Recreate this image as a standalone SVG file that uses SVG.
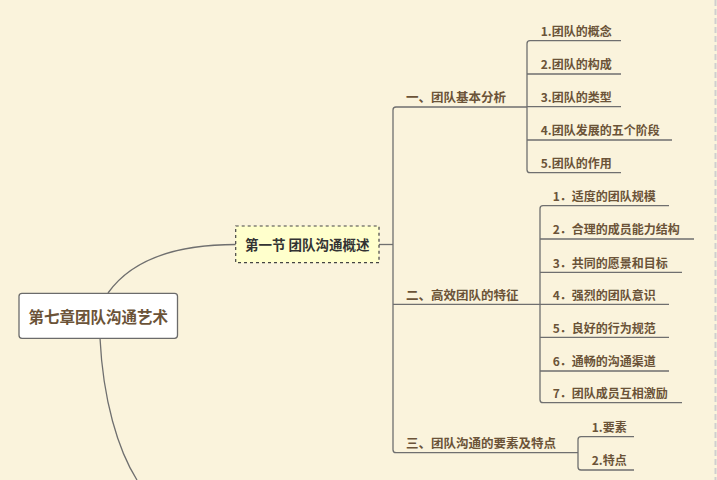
<svg xmlns="http://www.w3.org/2000/svg" width="717" height="480" viewBox="0 0 717 480">
<style>
.ln{fill:none;stroke:#6f6f6f;stroke-width:1.3}
.t{font-family:"Noto Sans CJK SC","Microsoft YaHei",sans-serif;font-weight:bold;font-size:12px;fill:#6b5338}
.t1{font-family:"Noto Sans CJK SC","Microsoft YaHei",sans-serif;font-weight:bold;font-size:12.5px;fill:#6b5338}
</style>
<rect width="717" height="480" fill="#faf3dc"/>
<line x1="715.5" y1="0" x2="715.5" y2="480" stroke="#cfcfcf" stroke-width="2" stroke-dasharray="6 3"/>
<g id="connectors">
<path class="ln" d="M108,293 C135,255 185,244.5 236,244.5"/>
<path class="ln" d="M100,338 C103,400 118,450 137,480"/>
<path class="ln" d="M379,244.5 H393"/>
<path class="ln" d="M527,107 H396 Q393,107 393,110 V449.7 Q393,452.7 396,452.7 H578"/>
<path class="ln" d="M393,304.3 H540"/>
<path class="ln" d="M621,40.7 H530 Q527,40.7 527,43.7 V169.7 Q527,172.7 530,172.7 H621"/>
<path class="ln" d="M527,74 H621 M527,106.7 H621 M527,140 H672"/>
<path class="ln" d="M669,205.7 H543 Q540,205.7 540,208.7 V399.7 Q540,402.7 543,402.7 H682"/>
<path class="ln" d="M540,239 H694 M540,272.3 H682 M540,304.3 H669 M540,337.3 H669 M540,371 H669"/>
<path class="ln" d="M634,436.7 H581 Q578,436.7 578,439.7 V467 Q578,470 581,470 H634"/>
</g>
<g id="root">
<rect x="19" y="293.3" width="158.5" height="45" rx="3" fill="#ffffff" stroke="#6b6b6b" stroke-width="1.3"/>
<text x="98.3" y="323" text-anchor="middle" font-family="'Noto Sans CJK SC','Microsoft YaHei',sans-serif" font-weight="bold" font-size="15.5" fill="#6b5338">第七章团队沟通艺术</text>
</g>
<g id="section">
<rect x="235.7" y="226" width="143.3" height="36.7" fill="#ffffcc" stroke="#444" stroke-width="1.2" stroke-dasharray="3 3"/>
<text x="307.3" y="249.5" text-anchor="middle" font-family="'Noto Sans CJK SC','Microsoft YaHei',sans-serif" font-weight="bold" font-size="13.5" fill="#333333">第一节 团队沟通概述</text>
</g>
<g id="sub1"><text class="t1" x="406" y="102">一、团队基本分析</text></g>
<g id="sub2"><text class="t1" x="406" y="299.5">二、高效团队的特征</text></g>
<g id="sub3"><text class="t1" x="406" y="448">三、团队沟通的要素及特点</text></g>
<g id="n1-1"><text class="t" x="540.7" y="36">1.团队的概念</text></g>
<g id="n1-2"><text class="t" x="540.7" y="69.3">2.团队的构成</text></g>
<g id="n1-3"><text class="t" x="540.7" y="102">3.团队的类型</text></g>
<g id="n1-4"><text class="t" x="540.7" y="135.3">4.团队发展的五个阶段</text></g>
<g id="n1-5"><text class="t" x="540.7" y="168">5.团队的作用</text></g>
<g id="n2-1"><text class="t" x="552.7" y="201">1．适度的团队规模</text></g>
<g id="n2-2"><text class="t" x="552.7" y="234.3">2．合理的成员能力结构</text></g>
<g id="n2-3"><text class="t" x="552.7" y="267.6">3．共同的愿景和目标</text></g>
<g id="n2-4"><text class="t" x="552.7" y="299.6">4．强烈的团队意识</text></g>
<g id="n2-5"><text class="t" x="552.7" y="332.6">5．良好的行为规范</text></g>
<g id="n2-6"><text class="t" x="552.7" y="366.3">6．通畅的沟通渠道</text></g>
<g id="n2-7"><text class="t" x="552.7" y="398">7．团队成员互相激励</text></g>
<g id="n3-1"><text class="t" x="591.7" y="432">1.要素</text></g>
<g id="n3-2"><text class="t" x="591.7" y="465.3">2.特点</text></g>
</svg>
